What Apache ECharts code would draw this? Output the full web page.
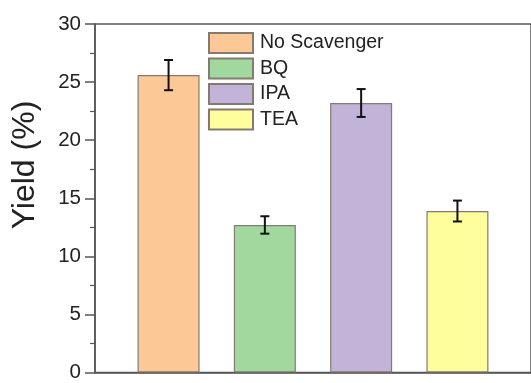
<!DOCTYPE html>
<html><head><meta charset="utf-8">
<script src="https://cdn.jsdelivr.net/npm/echarts@6/dist/echarts.min.js"></script>
<style>html,body{margin:0;padding:0;background:#fff}#c{width:531px;height:383px}</style>
</head><body><div id="c"></div>
<script>
const categories = ['No Scavenger', 'BQ', 'IPA', 'TEA'];
const positions = [1, 2, 3, 4];
const values = [25.6, 12.7, 23.2, 13.9];
const errors = [1.3, 0.75, 1.2, 0.9];
const colors = ['#FCC896', '#A0D89E', '#C2B4D8', '#FEFE9C'];
const yTicks = [0, 5, 10, 15, 20, 25, 30];

const font = "'Liberation Sans', Arial, sans-serif";
const chart = echarts.init(document.getElementById('c'));
const series = categories.map((name, i) => ({
  name: name,
  type: 'bar',
  barWidth: 62,
  barGap: '-100%',
  data: [[positions[i], values[i]]],
  itemStyle: { color: colors[i], borderColor: '#857a70', borderWidth: 1.2 },
  z: 2
}));
series.push({
  type: 'custom',
  name: 'err',
  z: 5,
  data: positions.map((p, i) => [p, values[i] - errors[i], values[i] + errors[i]]),
  renderItem: function (params, api) {
    const x = api.value(0);
    const lo = api.coord([x, api.value(1)]);
    const hi = api.coord([x, api.value(2)]);
    const hw = 4.5;
    const st = { stroke: '#111', lineWidth: 2 };
    return { type: 'group', children: [
      { type: 'line', shape: { x1: lo[0], y1: lo[1], x2: hi[0], y2: hi[1] }, style: st },
      { type: 'line', shape: { x1: lo[0] - hw, y1: lo[1], x2: lo[0] + hw, y2: lo[1] }, style: st },
      { type: 'line', shape: { x1: hi[0] - hw, y1: hi[1], x2: hi[0] + hw, y2: hi[1] }, style: st }
    ]};
  }
});
chart.setOption({
  animation: false,
  backgroundColor: '#fff',
  grid: { left: 95, top: 24, width: 445, height: 355, show: true, borderColor: '#555', borderWidth: 1.5, backgroundColor: 'transparent' },
  legend: {
    data: categories,
    orient: 'vertical', left: 208, top: 32, padding: 0,
    itemWidth: 44, itemHeight: 20, itemGap: 3.5,
    icon: 'rect',
    textStyle: { fontFamily: font, fontSize: 19.5, lineHeight: 20, color: '#222', padding: [0, 0, 0, 2] }
  },
  xAxis: {
    type: 'value', min: 0.236, max: 4.764,
    axisLine: { show: true, lineStyle: { color: '#555', width: 1.5 } },
    axisTick: { show: false }, axisLabel: { show: false }, splitLine: { show: false }
  },
  yAxis: {
    type: 'value', min: yTicks[0], max: yTicks[yTicks.length - 1], interval: 5,
    axisLine: { show: true, lineStyle: { color: '#555', width: 1.5 } },
    axisTick: { show: true, inside: false, length: 10, lineStyle: { color: '#555', width: 1.5 } },
    minorTick: { show: true, splitNumber: 2, length: 5, lineStyle: { color: '#555', width: 1.2 } },
    axisLabel: { fontFamily: font, fontSize: 20.5, color: '#222', margin: 14 },
    splitLine: { show: false }
  },
  graphic: [{
    type: 'text', x: 25, y: 165, rotation: Math.PI / 2,
    style: { text: 'Yield (%)', font: '32px ' + font, fill: '#222', textAlign: 'center', textVerticalAlign: 'middle' }
  }],
  series: series
});
</script></body></html>
